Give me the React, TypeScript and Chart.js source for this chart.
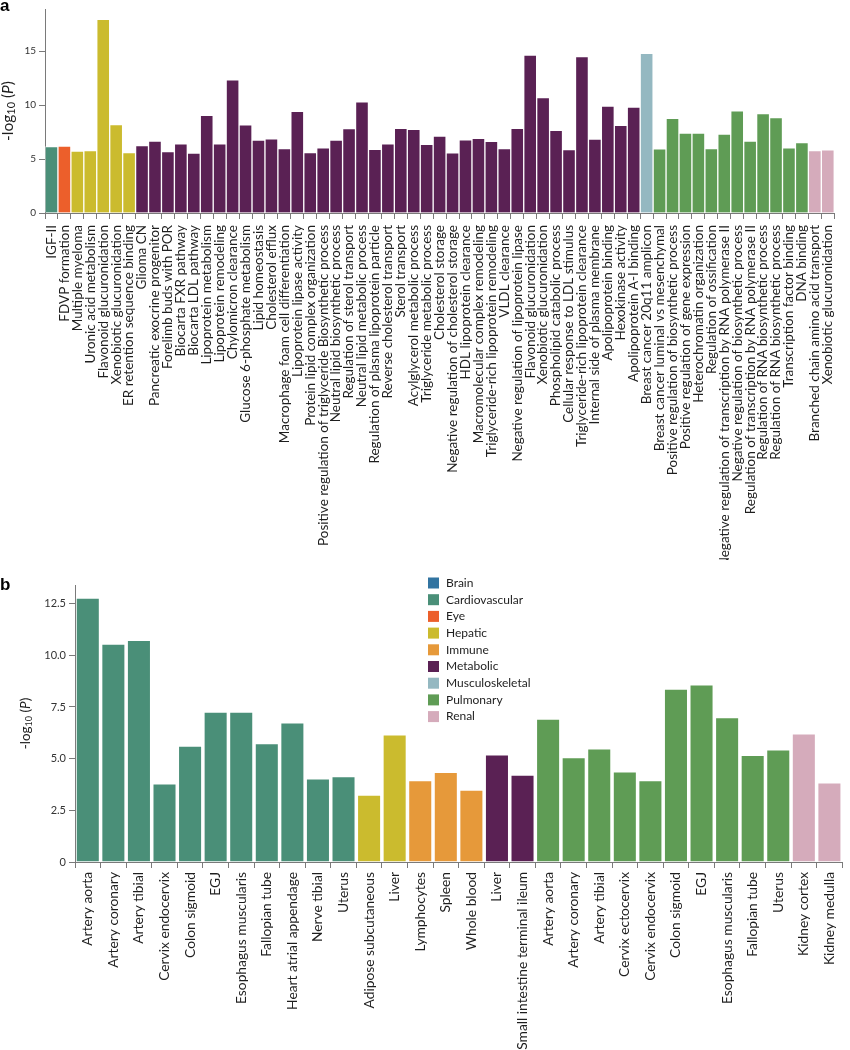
import React, { useEffect, useRef } from 'react';
import { Chart, registerables } from 'chart.js';
Chart.register(...registerables);

const FONT = 'Lato, "Open Sans", sans-serif';

const systems = ['Brain', 'Cardiovascular', 'Eye', 'Hepatic', 'Immune', 'Metabolic', 'Musculoskeletal', 'Pulmonary', 'Renal'];
const systemColors = ['#3274a1', '#4a8f78', '#ec5f2b', '#cbbb2e', '#e6993a', '#5a2154', '#94b8c1', '#5f9c55', '#d5abbb'];

const pathwayLabels = [
  'IGF-II', 'FDVP formation', 'Multiple myeloma', 'Uronic acid metabolism', 'Flavonoid glucuronidation',
  'Xenobiotic glucuronidation', 'ER retention sequence binding', 'Glioma CN', 'Pancreatic exocrine progenitor',
  'Forelimb buds with POR', 'Biocarta FXR pathway', 'Biocarta LDL pathway', 'Lipoprotein metabolism',
  'Lipoprotein remodeling', 'Chylomicron clearance', 'Glucose 6-phosphate metabolism', 'Lipid homeostasis',
  'Cholesterol efflux', 'Macrophage foam cell differentiation', 'Lipoprotein lipase activity',
  'Protein lipid complex organization', 'Positive regulation of triglyceride Biosynthetic process',
  'Neutral lipid biosynthetic process', 'Regulation of sterol transport', 'Neutral lipid metabolic process',
  'Regulation of plasma lipoprotein particle', 'Reverse cholesterol transport', 'Sterol transport',
  'Acylglycerol metabolic process', 'Triglyceride metabolic process', 'Cholesterol storage',
  'Negative regulation of cholesterol storage', 'HDL lipoprotein clearance', 'Macromolecular complex remodeling',
  'Triglyceride-rich lipoprotein remodeling', 'VLDL clearance', 'Negative regulation of lipoprotein lipase',
  'Flavonoid glucuronidation', 'Xenobiotic glucuronidation', 'Phospholipid catabolic process',
  'Cellular response to LDL stimulus', 'Triglyceride-rich lipoprotein clearance', 'Internal side of plasma membrane',
  'Apolipoprotein binding', 'Hexokinase activity', 'Apolipoprotein A-I binding', 'Breast cancer 20q11 amplicon',
  'Breast cancer luminal vs mesenchymal', 'Positive regulation of biosynthetic process',
  'Positive regulation of gene expression', 'Heterochromatin organization', 'Regulation of ossification',
  'Negative regulation of transcription by RNA polymerase II', 'Negative regulation of biosynthetic process',
  'Regulation of transcription by RNA polymerase II', 'Regulation of RNA biosynthetic process',
  'Regulation of RNA biosynthetic process', 'Transcription factor binding', 'DNA binding',
  'Branched chain amino acid transport', 'Xenobiotic glucuronidation',
];

const pathwaySystems = [
  'Cardiovascular', 'Eye', 'Hepatic', 'Hepatic', 'Hepatic', 'Hepatic', 'Hepatic',
  'Metabolic', 'Metabolic', 'Metabolic', 'Metabolic', 'Metabolic', 'Metabolic', 'Metabolic', 'Metabolic',
  'Metabolic', 'Metabolic', 'Metabolic', 'Metabolic', 'Metabolic', 'Metabolic', 'Metabolic', 'Metabolic',
  'Metabolic', 'Metabolic', 'Metabolic', 'Metabolic', 'Metabolic', 'Metabolic', 'Metabolic', 'Metabolic',
  'Metabolic', 'Metabolic', 'Metabolic', 'Metabolic', 'Metabolic', 'Metabolic', 'Metabolic', 'Metabolic',
  'Metabolic', 'Metabolic', 'Metabolic', 'Metabolic', 'Metabolic', 'Metabolic', 'Metabolic',
  'Musculoskeletal',
  'Pulmonary', 'Pulmonary', 'Pulmonary', 'Pulmonary', 'Pulmonary', 'Pulmonary', 'Pulmonary', 'Pulmonary',
  'Pulmonary', 'Pulmonary', 'Pulmonary', 'Pulmonary',
  'Renal', 'Renal',
];

const pathwayValues = [
  6.15, 6.2, 5.73, 5.79, 17.94, 8.2, 5.6, 6.25, 6.67, 5.7, 6.4, 5.55, 9.06, 6.4, 12.34, 8.18, 6.76, 6.88,
  5.97, 9.43, 5.6, 6.03, 6.76, 7.82, 10.3, 5.9, 6.4, 7.85, 7.76, 6.37, 7.12, 5.58, 6.79, 6.91, 6.64, 5.97,
  7.85, 14.64, 10.7, 7.67, 5.88, 14.49, 6.85, 9.91, 8.13, 9.82, 14.79, 5.94, 8.76, 7.4, 7.4, 5.97, 7.31,
  9.46, 6.67, 9.21, 8.85, 6.03, 6.52, 5.79, 5.85,
];

const tissueLabels = [
  'Artery aorta', 'Artery coronary', 'Artery tibial', 'Cervix endocervix', 'Colon sigmoid', 'EGJ',
  'Esophagus muscularis', 'Fallopian tube', 'Heart atrial appendage', 'Nerve tibial', 'Uterus',
  'Adipose subcutaneous', 'Liver', 'Lymphocytes', 'Spleen', 'Whole blood', 'Liver',
  'Small intestine terminal ileum', 'Artery aorta', 'Artery coronary', 'Artery tibial', 'Cervix ectocervix',
  'Cervix endocervix', 'Colon sigmoid', 'EGJ', 'Esophagus muscularis', 'Fallopian tube', 'Uterus',
  'Kidney cortex', 'Kidney medulla',
];

const tissueSystems = [
  'Cardiovascular', 'Cardiovascular', 'Cardiovascular', 'Cardiovascular', 'Cardiovascular', 'Cardiovascular',
  'Cardiovascular', 'Cardiovascular', 'Cardiovascular', 'Cardiovascular', 'Cardiovascular',
  'Hepatic', 'Hepatic', 'Immune', 'Immune', 'Immune', 'Metabolic', 'Metabolic',
  'Pulmonary', 'Pulmonary', 'Pulmonary', 'Pulmonary', 'Pulmonary', 'Pulmonary', 'Pulmonary', 'Pulmonary',
  'Pulmonary', 'Pulmonary', 'Renal', 'Renal',
];

const tissueValues = [
  12.78, 10.56, 10.74, 3.8, 5.62, 7.27, 7.27, 5.74, 6.75, 4.04, 4.15, 3.25, 6.17, 3.96, 4.35, 3.49, 5.2,
  4.22, 6.93, 5.07, 5.49, 4.38, 3.96, 8.38, 8.59, 7.0, 5.18, 5.44, 6.22, 3.85,
];

const colorOf = (s: string) => systemColors[systems.indexOf(s)];

const AXIS = '#7a7a7a';
const TEXT = '#1e1e1e';

function yTitlePlugin(x: number, size: number) {
  return {
    id: 'ytitle',
    afterDraw(chart: any) {
      const ctx = chart.ctx;
      const ca = chart.chartArea;
      const cy = (ca.top + ca.bottom) / 2;
      const sub = Math.round(size * 0.68);
      const parts = [
        { t: '-log', f: `${size}px ${FONT}`, dy: 0 },
        { t: '10', f: `${sub}px ${FONT}`, dy: size * 0.25 },
        { t: ' (', f: `${size}px ${FONT}`, dy: 0 },
        { t: 'P', f: `italic ${size}px ${FONT}`, dy: 0 },
        { t: ')', f: `${size}px ${FONT}`, dy: 0 },
      ];
      ctx.save();
      let total = 0;
      const widths = parts.map((p) => {
        ctx.font = p.f;
        const w = ctx.measureText(p.t).width;
        total += w;
        return w;
      });
      ctx.translate(x, cy);
      ctx.rotate(-Math.PI / 2);
      ctx.fillStyle = TEXT;
      ctx.textBaseline = 'middle';
      ctx.textAlign = 'left';
      let cx = -total / 2;
      parts.forEach((p, i) => {
        ctx.font = p.f;
        ctx.fillText(p.t, cx, p.dy);
        cx += widths[i];
      });
      ctx.restore();
    },
  };
}

const legendPlugin = {
  id: 'syslegend',
  afterDraw(chart: any) {
    const ctx = chart.ctx;
    ctx.save();
    const x0 = 428;
    const y0 = 23;
    const step = 16.7;
    systems.forEach((s, i) => {
      const y = y0 + i * step;
      ctx.fillStyle = systemColors[i];
      ctx.fillRect(x0, y - 5.5, 11, 11);
      ctx.fillStyle = TEXT;
      ctx.font = `12px ${FONT}`;
      ctx.textBaseline = 'middle';
      ctx.textAlign = 'left';
      ctx.fillText(s, x0 + 18, y);
    });
    ctx.restore();
  },
};

function makeOptions(opts: {
  yMax: number; step: number; yWidth: number; xHeight: number; top: number;
  tickSize: number; labelSize: number; labelPad: number; fmt?: (v: number) => string;
}) {
  return {
    animation: false,
    responsive: false,
    maintainAspectRatio: false,
    layout: { padding: { left: 0, right: 2, top: opts.top, bottom: 0 } },
    plugins: { legend: { display: false }, tooltip: { enabled: false } },
    scales: {
      x: {
        afterFit: (s: any) => { s.height = opts.xHeight; },
        grid: { display: true, drawOnChartArea: false, drawTicks: true, tickLength: 6, color: AXIS },
        border: { display: true, color: AXIS, width: 1 },
        ticks: {
          autoSkip: false, maxRotation: 90, minRotation: 90, padding: opts.labelPad, color: TEXT,
          font: { family: FONT, size: opts.labelSize },
        },
      },
      y: {
        min: 0,
        max: opts.yMax,
        afterFit: (s: any) => { s.width = opts.yWidth; },
        grid: { display: true, drawOnChartArea: false, drawTicks: true, tickLength: 6, color: AXIS },
        border: { display: true, color: AXIS, width: 1 },
        ticks: {
          stepSize: opts.step, includeBounds: false, padding: 3, color: '#333',
          font: { family: FONT, size: opts.tickSize },
          callback: opts.fmt ? (v: any) => opts.fmt!(Number(v)) : undefined,
        },
      },
    },
  };
}

export default function App() {
  const refA = useRef<HTMLCanvasElement>(null);
  const refB = useRef<HTMLCanvasElement>(null);

  useEffect(() => {
    const chartA = new Chart(refA.current!, {
      type: 'bar',
      data: {
        labels: pathwayLabels,
        datasets: [{
          data: pathwayValues,
          backgroundColor: pathwaySystems.map(colorOf),
          borderColor: 'rgba(255,255,255,0.55)',
          borderWidth: 1,
          barPercentage: 1,
          categoryPercentage: 1,
        }],
      },
      options: makeOptions({ yMax: 18.9, step: 5, yWidth: 45, xHeight: 347, top: 5, tickSize: 10, labelSize: 13.5, labelPad: 6 }) as any,
      plugins: [yTitlePlugin(8, 15.5)],
    });
    const chartB = new Chart(refB.current!, {
      type: 'bar',
      data: {
        labels: tissueLabels,
        datasets: [{
          data: tissueValues,
          backgroundColor: tissueSystems.map(colorOf),
          borderColor: 'rgba(255,255,255,0.5)',
          borderWidth: 1,
          barPercentage: 0.94,
          categoryPercentage: 1,
        }],
      },
      options: makeOptions({
        yMax: 13.4, step: 2.5, yWidth: 75, xHeight: 188, top: 25, tickSize: 11, labelSize: 13.8, labelPad: 4,
        fmt: (v) => (v === 0 ? '0' : v.toFixed(1)),
      }) as any,
      plugins: [yTitlePlugin(26, 13.5), legendPlugin],
    });
    return () => { chartA.destroy(); chartB.destroy(); };
  }, []);

  const panelLetter: React.CSSProperties = {
    position: 'absolute', fontFamily: '"Liberation Sans", Arial, sans-serif', fontWeight: 'bold',
    fontSize: 17, lineHeight: '17px', color: '#000',
  };

  return (
    <div style={{ position: 'absolute', left: 0, top: 0, width: 850, height: 1050, background: '#fff' }}>
      <canvas ref={refA} width={850} height={560} style={{ position: 'absolute', left: 0, top: 0, width: 850, height: 560 }} />
      <canvas ref={refB} width={850} height={490} style={{ position: 'absolute', left: 0, top: 560, width: 850, height: 490 }} />
      <div style={{ ...panelLetter, left: 0, top: -3 }}>a</div>
      <div style={{ ...panelLetter, left: 0, top: 576 }}>b</div>
    </div>
  );
}
